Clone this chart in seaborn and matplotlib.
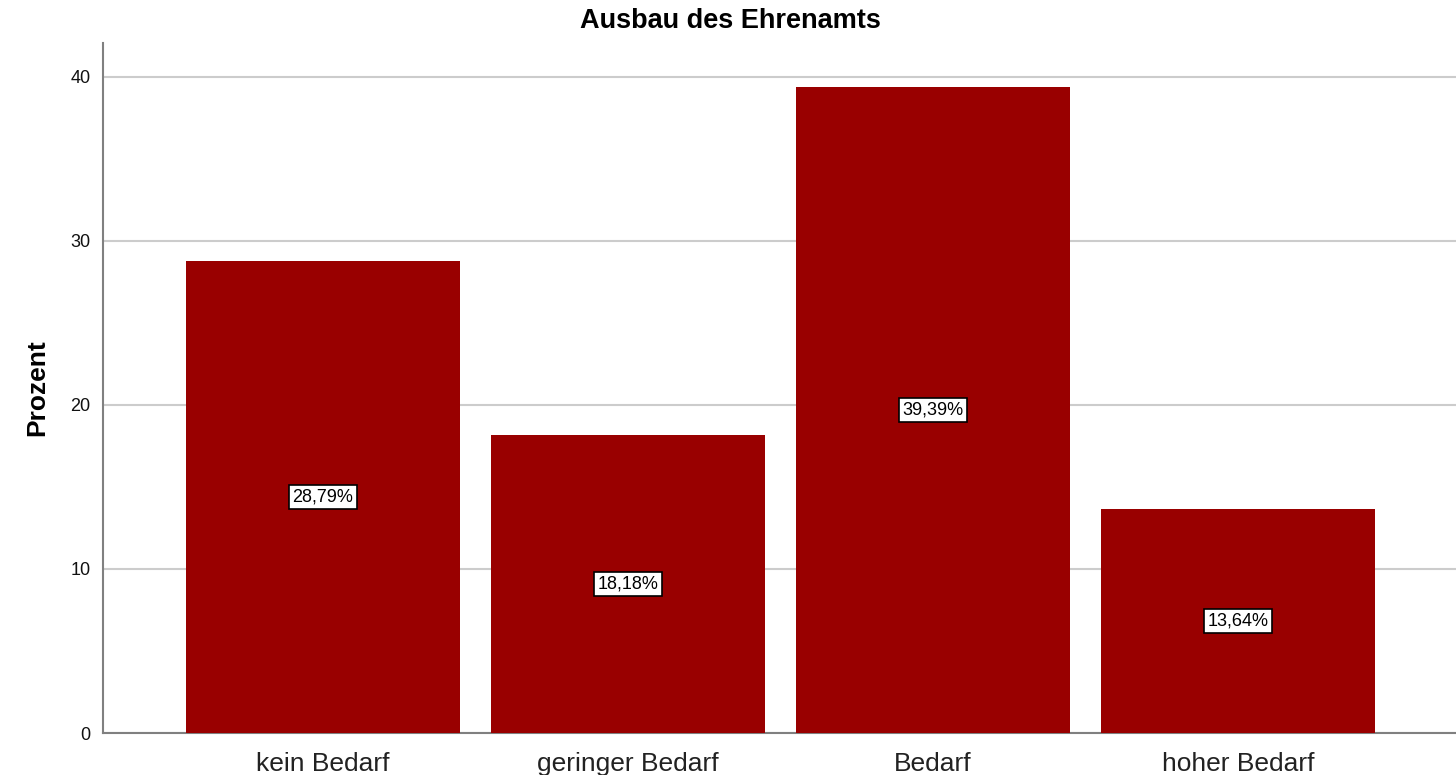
import matplotlib
matplotlib.use("Agg")
import matplotlib.pyplot as plt
import seaborn as sns
import pandas as pd

categories = ["kein Bedarf", "geringer Bedarf", "Bedarf", "hoher Bedarf"]
percent = [28.79, 18.18, 39.39, 13.64]
yticks = [0, 10, 20, 30, 40]

sns.set_style("white")
plt.rcParams["font.family"] = ["Liberation Sans", "DejaVu Sans"]

df = pd.DataFrame({"Kategorie": categories, "Prozent": percent})

fig = plt.figure(figsize=(14.56, 7.75), dpi=100)
ax = fig.add_axes([103 / 1456, 42 / 775, 1 - 103 / 1456, (733 - 43) / 775])

sns.barplot(data=df, x="Kategorie", y="Prozent", color="#990000",
            saturation=1, width=0.9, ax=ax, zorder=3, edgecolor="none")

ax.set_xlim(-0.721, 3.715)
ax.set_ylim(0, 42.07)
ax.set_yticks(yticks)
ax.set_yticklabels([str(t) for t in yticks], fontsize=13, color="#111111")
ax.tick_params(axis="both", length=0)
ax.tick_params(axis="y", pad=9)
ax.tick_params(axis="x", pad=14, labelsize=19, labelcolor="#222222")
ax.yaxis.grid(True, color="#cccccc", linewidth=1.5, zorder=0)
ax.set_axisbelow(True)

for side in ["top", "right"]:
    ax.spines[side].set_visible(False)
for side in ["left", "bottom"]:
    ax.spines[side].set_color("#808080")
    ax.spines[side].set_linewidth(1.5)

ax.set_xlabel("")
ax.set_ylabel("Prozent", fontsize=19, fontweight="bold", labelpad=15,
              color="black")

for i, v in enumerate(percent):
    ax.text(i, v / 2, f"{v:.2f}%".replace(".", ","), ha="center", va="center",
            fontsize=13, color="black", zorder=5,
            bbox=dict(boxstyle="square,pad=0.2", facecolor="white",
                      edgecolor="black", linewidth=1.2))

fig.text(730 / 1456, 1 - 21 / 775, "Ausbau des Ehrenamts", ha="center",
         va="center", fontsize=19.5, fontweight="bold", color="black")

fig.savefig("out.png", dpi=100)
